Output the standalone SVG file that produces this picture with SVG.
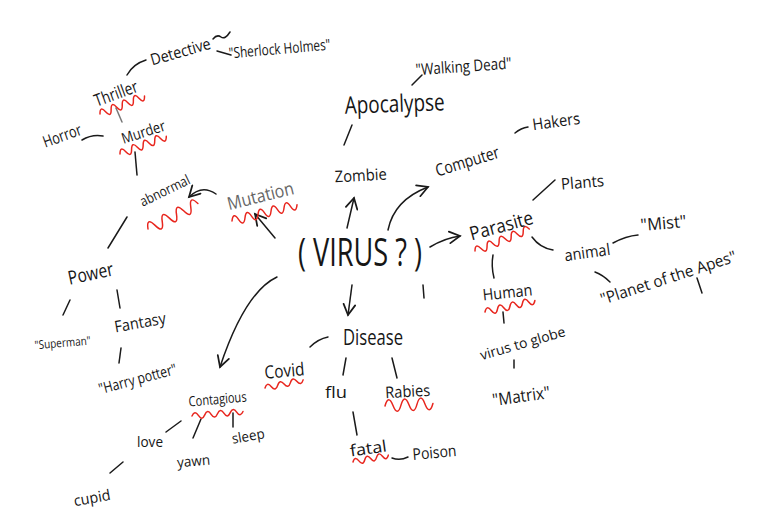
<svg xmlns="http://www.w3.org/2000/svg" width="759" height="531" viewBox="0 0 759 531">
<defs>
<style>
text{font-family:"Open Sans","Liberation Sans",sans-serif;font-weight:400;fill:#161616;text-anchor:middle}
.c path,.c line{fill:none;stroke:#1a1a1a;stroke-width:1.5;stroke-linecap:round}
.w{fill:none;stroke:#e8261e;stroke-width:1.5;stroke-linecap:round}
.a{marker-end:url(#ah)}
</style>
<marker id="ah" markerUnits="userSpaceOnUse" markerWidth="14" markerHeight="14" refX="10" refY="6" orient="auto" viewBox="0 0 12 12">
<path d="M1,1 L10,6 L1,11" fill="none" stroke="#1a1a1a" stroke-width="1.5" stroke-linecap="round"/>
</marker>
</defs>
<rect width="759" height="531" fill="#fff"/>
<g class="c" id="connectors">
<path d="M127,75 Q133,64 146,60"/>
<path d="M213,39 q4,-5 8,-2 t9,-5"/>
<path d="M217,51 L231,55"/>
<path d="M82,140 Q92,134 103,136"/>
<path d="M116,108 L122,122" style="stroke:#777"/>
<path d="M135,152 L137,175"/>
<path class="a" d="M216,194 Q202,184 189,197"/>
<path class="a" d="M275,238 L255,214"/>
<path d="M127,217 L108,248"/>
<path d="M70,300 L63,315"/>
<path d="M117,290 L120,308"/>
<path d="M121,348 L119,363"/>
<path class="a" d="M277,277 Q245,292 220,367"/>
<path class="a" d="M347,228 L354,198"/>
<path d="M344,145 L352,125"/>
<path d="M412,85 L422,75"/>
<path class="a" d="M388,230 Q394,200 428,187"/>
<path d="M515,133 Q521,128 528,127"/>
<path class="a" d="M430,247 Q445,238 460,236"/>
<path d="M423,285 L424,298"/>
<path d="M533,200 L555,180"/>
<path d="M532,237 Q540,248 553,250"/>
<path d="M613,243 Q626,236 638,235"/>
<path d="M595,272 Q603,275 610,282"/>
<path d="M697,278 L702,293"/>
<path d="M493,255 Q491,266 494,278"/>
<path d="M503,312 L504,323"/>
<path d="M514,360 L514,368"/>
<path class="a" d="M352,285 L348,315"/>
<path d="M310,347 Q318,339 328,337"/>
<path d="M346,358 L343,375"/>
<path d="M392,358 L397,378"/>
<path d="M353,412 L357,435"/>
<path d="M392,458 Q400,461 408,457"/>
<path d="M233,413 L233,427"/>
<path d="M201,419 L193,438"/>
<path d="M181,421 L166,432"/>
<path d="M123,462 L110,473"/>
</g>
<g id="waves">
<path class="w" transform="translate(100,114) rotate(-22)" d="M0,0 q3,-8 6,0 t6,0 t6,0 t6,0 t6,0 t6,0 t6,0 t6,0"/>
<path class="w" transform="translate(120,154) rotate(-21)" d="M0,0 q3.1,-8 6.2,0 t6.2,0 t6.2,0 t6.2,0 t6.2,0 t6.2,0 t6.2,0 t6.2,0"/>
<path class="w" transform="translate(148,229) rotate(-27)" d="M0,0 q4,-12 8,0 t8,0 t8,0 t8,0 t8,0 t8,0 t8,0"/>
<path class="w" transform="translate(232,221) rotate(-14)" d="M0,0 q3.35,-9 6.7,0 t6.7,0 t6.7,0 t6.7,0 t6.7,0 t6.7,0 t6.7,0 t6.7,0 t6.7,0 t6.7,0"/>
<path class="w" transform="translate(475,251) rotate(-22)" d="M0,0 q3.25,-8 6.5,0 t6.5,0 t6.5,0 t6.5,0 t6.5,0 t6.5,0 t6.5,0 t6.5,0 t6.5,0"/>
<path class="w" transform="translate(485,312) rotate(-13)" d="M0,0 q3.2,-7 6.4,0 t6.4,0 t6.4,0 t6.4,0 t6.4,0 t6.4,0 t6.4,0 t6.4,0"/>
<path class="w" transform="translate(265,388) rotate(-12)" d="M0,0 q3.25,-6 6.5,0 t6.5,0 t6.5,0 t6.5,0 t6.5,0 t6.5,0"/>
<path class="w" transform="translate(192,416) rotate(-5)" d="M0,0 q3.2,-6 6.4,0 t6.4,0 t6.4,0 t6.4,0 t6.4,0 t6.4,0 t6.4,0 t6.4,0"/>
<path class="w" transform="translate(385,406) rotate(-3)" d="M0,0 q4,-12 8,0 t8,0 t8,0 t8,0 t8,0 t8,0"/>
<path class="w" transform="translate(353,462) rotate(-11)" d="M0,0 q3,-6 6,0 t6,0 t6,0 t6,0 t6,0 t6,0"/>
</g>
<g id="virus"><text x="360" y="266" font-size="38" font-weight="300" textLength="124" lengthAdjust="spacingAndGlyphs">( VIRUS ? )</text></g>
<g id="detective"><text x="182" y="57" font-size="16" textLength="62" lengthAdjust="spacingAndGlyphs" transform="rotate(-16 182 57)">Detective</text></g>
<g id="sherlock"><text x="280" y="54" font-size="15" textLength="102" lengthAdjust="spacingAndGlyphs" transform="rotate(-5 280 54)">"Sherlock Holmes"</text></g>
<g id="thriller"><text x="118" y="99" font-size="17" textLength="45" lengthAdjust="spacingAndGlyphs" transform="rotate(-20 118 99)">Thriller</text></g>
<g id="horror"><text x="64" y="141" font-size="16" textLength="40" lengthAdjust="spacingAndGlyphs" transform="rotate(-20 64 141)">Horror</text></g>
<g id="murder"><text x="145" y="137" font-size="15" textLength="45" lengthAdjust="spacingAndGlyphs" transform="rotate(-18 145 137)">Murder</text></g>
<g id="abnormal"><text x="167" y="195" font-size="14" textLength="54" lengthAdjust="spacingAndGlyphs" transform="rotate(-26 167 195)">abnormal</text></g>
<g id="mutation"><text x="262" y="202" font-size="18" textLength="68" lengthAdjust="spacingAndGlyphs" transform="rotate(-14 262 202)" style="fill:#666">Mutation</text></g>
<g id="power"><text x="92" y="280" font-size="19" textLength="46" lengthAdjust="spacingAndGlyphs" transform="rotate(-12 92 280)">Power</text></g>
<g id="fantasy"><text x="141" y="328" font-size="16" textLength="52" lengthAdjust="spacingAndGlyphs" transform="rotate(-10 141 328)">Fantasy</text></g>
<g id="superman"><text x="63" y="347" font-size="12" textLength="56" lengthAdjust="spacingAndGlyphs" transform="rotate(-5 63 347)">"Superman"</text></g>
<g id="harry"><text x="139" y="384" font-size="15" textLength="80" lengthAdjust="spacingAndGlyphs" transform="rotate(-15 139 384)">"Harry potter"</text></g>
<g id="zombie"><text x="361" y="181" font-size="16" textLength="52" lengthAdjust="spacingAndGlyphs" transform="rotate(-3 361 181)">Zombie</text></g>
<g id="apocalypse"><text x="395" y="112" font-size="24" textLength="100" lengthAdjust="spacingAndGlyphs" transform="rotate(-2 395 112)">Apocalypse</text></g>
<g id="walking"><text x="464" y="72" font-size="16" textLength="96" lengthAdjust="spacingAndGlyphs" transform="rotate(-4 464 72)">"Walking Dead"</text></g>
<g id="computer"><text x="469" y="167" font-size="17" textLength="66" lengthAdjust="spacingAndGlyphs" transform="rotate(-17 469 167)">Computer</text></g>
<g id="hakers"><text x="557" y="127" font-size="16" textLength="48" lengthAdjust="spacingAndGlyphs" transform="rotate(-8 557 127)">Hakers</text></g>
<g id="parasite"><text x="503" y="232" font-size="19" textLength="65" lengthAdjust="spacingAndGlyphs" transform="rotate(-15 503 232)">Parasite</text></g>
<g id="plants"><text x="583" y="188" font-size="16" textLength="43" lengthAdjust="spacingAndGlyphs" transform="rotate(-5 583 188)">Plants</text></g>
<g id="animal"><text x="588" y="258" font-size="16" textLength="46" lengthAdjust="spacingAndGlyphs" transform="rotate(-8 588 258)">animal</text></g>
<g id="mist"><text x="664" y="229" font-size="17" textLength="46" lengthAdjust="spacingAndGlyphs" transform="rotate(-5 664 229)">"Mist"</text></g>
<g id="planet"><text x="670" y="283" font-size="16" textLength="142" lengthAdjust="spacingAndGlyphs" transform="rotate(-18 670 283)">"Planet of the Apes"</text></g>
<g id="human"><text x="508" y="298" font-size="16" textLength="50" lengthAdjust="spacingAndGlyphs" transform="rotate(-6 508 298)">Human</text></g>
<g id="globe"><text x="524" y="348" font-size="14" textLength="88" lengthAdjust="spacingAndGlyphs" transform="rotate(-16 524 348)">virus to globe</text></g>
<g id="matrix"><text x="522" y="402" font-size="17" textLength="58" lengthAdjust="spacingAndGlyphs" transform="rotate(-8 522 402)">"Matrix"</text></g>
<g id="disease"><text x="373" y="345" font-size="21" textLength="60" lengthAdjust="spacingAndGlyphs">Disease</text></g>
<g id="covid"><text x="285" y="377" font-size="18" textLength="40" lengthAdjust="spacingAndGlyphs" transform="rotate(-5 285 377)">Covid</text></g>
<g id="flu"><text x="336" y="398" font-size="17" textLength="22" lengthAdjust="spacingAndGlyphs">flu</text></g>
<g id="rabies"><text x="408" y="397" font-size="16" textLength="45" lengthAdjust="spacingAndGlyphs" transform="rotate(-3 408 397)">Rabies</text></g>
<g id="fatal"><text x="369" y="454" font-size="16" textLength="37" lengthAdjust="spacingAndGlyphs" transform="rotate(-8 369 454)">fatal</text></g>
<g id="poison"><text x="435" y="458" font-size="16" textLength="44" lengthAdjust="spacingAndGlyphs" transform="rotate(-5 435 458)">Poison</text></g>
<g id="contagious"><text x="218" y="404" font-size="14" textLength="58" lengthAdjust="spacingAndGlyphs" transform="rotate(-5 218 404)">Contagious</text></g>
<g id="sleep"><text x="249" y="441" font-size="14" textLength="33" lengthAdjust="spacingAndGlyphs" transform="rotate(-10 249 441)">sleep</text></g>
<g id="yawn"><text x="194" y="466" font-size="14" textLength="33" lengthAdjust="spacingAndGlyphs" transform="rotate(-5 194 466)">yawn</text></g>
<g id="love"><text x="150" y="447" font-size="14" textLength="26" lengthAdjust="spacingAndGlyphs">love</text></g>
<g id="cupid"><text x="93" y="503" font-size="15" textLength="37" lengthAdjust="spacingAndGlyphs" transform="rotate(-10 93 503)">cupid</text></g>
</svg>
